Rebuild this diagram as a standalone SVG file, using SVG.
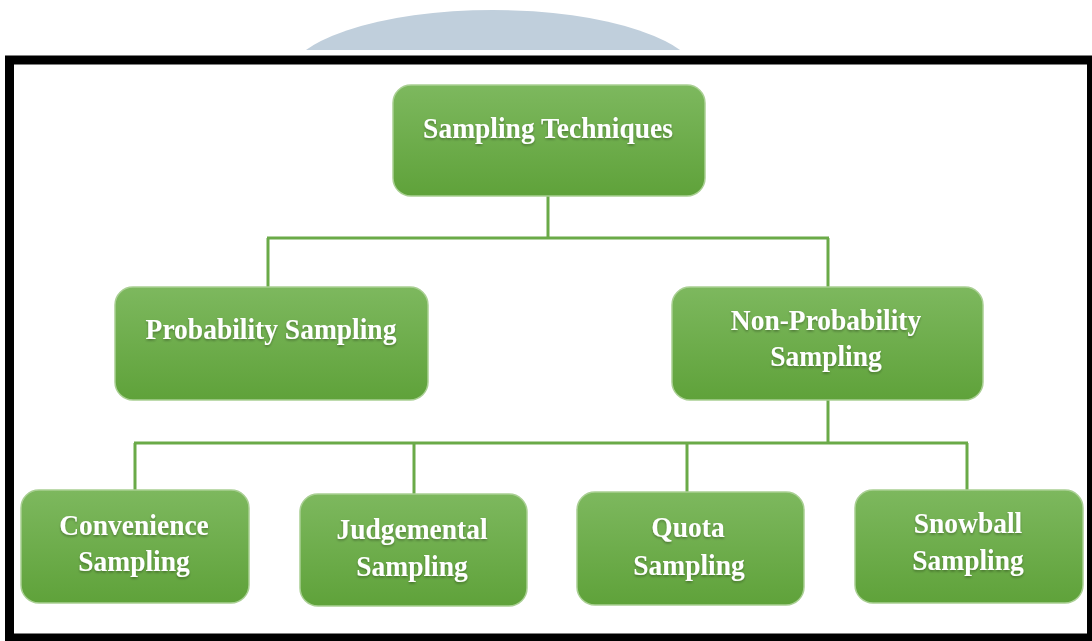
<svg xmlns="http://www.w3.org/2000/svg" width="1092" height="641" viewBox="0 0 1092 641">
  <defs>
    <linearGradient id="g" x1="0" y1="0" x2="0" y2="1">
      <stop offset="0" stop-color="#7db85e"/>
      <stop offset="1" stop-color="#5fa23a"/>
    </linearGradient>
    <filter id="sh" x="-5%" y="-10%" width="110%" height="130%">
      <feDropShadow dx="0" dy="1.5" stdDeviation="1" flood-color="#000" flood-opacity="0.3"/>
    </filter>
    <clipPath id="arcclip"><rect x="0" y="0" width="1092" height="50"/></clipPath>
  </defs>
  <style>
    .box { fill: url(#g); stroke: #a9cf93; stroke-width: 1.5; }
    .lbl { font-family: "Liberation Serif", "Times New Roman", serif; font-weight: bold; font-size: 27.5px; fill: #ffffff; text-anchor: middle; filter: url(#sh); }
    .con { fill: none; stroke: #6aaa48; stroke-width: 3; }
  </style>
  <rect width="1092" height="641" fill="#ffffff"/>
  <ellipse cx="493" cy="80" rx="207" ry="70" fill="#c0cfdc" clip-path="url(#arcclip)"/>
  <rect x="9.5" y="60" width="1082" height="578" fill="#ffffff" stroke="#000000" stroke-width="9"/>

  <g id="connectors">
    <path class="con" d="M548 196 V238 M267 238 H829 M268 238 V287 M828 238 V287"/>
    <path class="con" d="M828 400 V443 M134 443 H968 M135 443 V490 M414 443 V494 M687 443 V492 M967 443 V490"/>
  </g>

  <g id="sampling-techniques">
    <rect class="box" x="393" y="85" width="312" height="111" rx="18"/>
    <text class="lbl" transform="translate(548 138) scale(1 1.08)">Sampling Techniques</text>
  </g>
  <g id="probability-sampling">
    <rect class="box" x="115" y="287" width="313" height="113" rx="18"/>
    <text class="lbl" transform="translate(271 339) scale(1 1.08)">Probability Sampling</text>
  </g>
  <g id="non-probability-sampling">
    <rect class="box" x="672" y="287" width="311" height="113" rx="18"/>
    <text class="lbl" transform="translate(826 330) scale(1 1.08)">Non-Probability</text>
    <text class="lbl" transform="translate(826 366) scale(1 1.08)">Sampling</text>
  </g>
  <g id="convenience-sampling">
    <rect class="box" x="21" y="490" width="228" height="113" rx="18"/>
    <text class="lbl" transform="translate(134 535) scale(1 1.08)">Convenience</text>
    <text class="lbl" transform="translate(134 571) scale(1 1.08)">Sampling</text>
  </g>
  <g id="judgemental-sampling">
    <rect class="box" x="300" y="494" width="227" height="112" rx="18"/>
    <text class="lbl" transform="translate(412 539) scale(1 1.08)">Judgemental</text>
    <text class="lbl" transform="translate(412 576) scale(1 1.08)">Sampling</text>
  </g>
  <g id="quota-sampling">
    <rect class="box" x="577" y="492" width="227" height="113" rx="18"/>
    <text class="lbl" transform="translate(688 537) scale(1 1.08)">Quota</text>
    <text class="lbl" transform="translate(689 575) scale(1 1.08)">Sampling</text>
  </g>
  <g id="snowball-sampling">
    <rect class="box" x="855" y="490" width="228" height="113" rx="18"/>
    <text class="lbl" transform="translate(968 533) scale(1 1.08)">Snowball</text>
    <text class="lbl" transform="translate(968 570) scale(1 1.08)">Sampling</text>
  </g>
</svg>
